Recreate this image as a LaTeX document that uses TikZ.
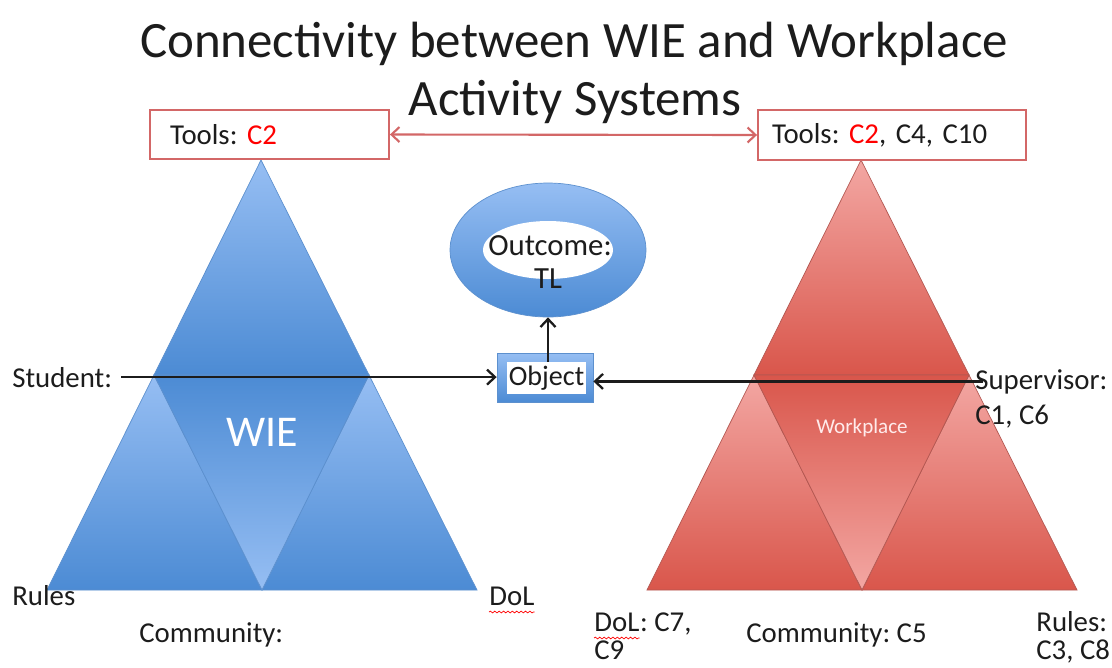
\documentclass[tikz,border=0pt]{standalone}
\usepackage{fontspec}
\setmainfont{Carlito}
\usetikzlibrary{arrows.meta, positioning, shapes.geometric, decorations.pathmorphing}
\definecolor{wielight}{HTML}{96BEF3}
\definecolor{wiedark}{HTML}{4C8BD4}
\definecolor{wieedge}{HTML}{5C90CE}
\definecolor{wplight}{HTML}{F3A7A3}
\definecolor{wpdark}{HTML}{D9564B}
\definecolor{wpedge}{HTML}{B35852}
\definecolor{toolred}{HTML}{D36767}
\definecolor{txt}{HTML}{1C1C1C}
\frenchspacing

% activity system: one triangle cut into four
% #1 name, #2 apex x, #3 light, #4 dark, #5 edge
\newcommand{\actsystem}[5]{%
  \coordinate (#1top) at (#2,160);
  \coordinate (#1bl) at ({#2-214},590);
  \coordinate (#1br) at ({#2+216},590);
  \coordinate (#1ml) at ({#2-107},375);
  \coordinate (#1mr) at ({#2+108},375);
  \coordinate (#1mb) at ({#2+1},590);
  \shade[top color=#3, bottom color=#4, draw=#5, line width=0.4pt] (#1top) -- (#1ml) -- (#1mr) -- cycle;
  \shade[top color=#3, bottom color=#4, draw=#5, line width=0.4pt] (#1ml) -- (#1bl) -- (#1mb) -- cycle;
  \shade[top color=#3, bottom color=#4, draw=#5, line width=0.4pt] (#1mr) -- (#1mb) -- (#1br) -- cycle;
  \shade[top color=#4, bottom color=#3, draw=#5, line width=0.4pt] (#1ml) -- (#1mr) -- (#1mb) -- cycle;
}

\begin{document}
\begin{tikzpicture}[x=0.02cm, y=-0.02cm,
    lbl/.style={font=\fontsize{16.4}{20}\selectfont, text=txt, inner sep=0pt, anchor=base west},
    toolbox/.style={draw=toolred, line width=1.1pt, fill=white, align=left,
                    font=\fontsize{16.4}{20}\selectfont, text=txt},
    conn/.style={-{Straight Barb[length=1.6mm, width=3mm]}, line width=1.3pt, txt},
    toolarr/.style={{Straight Barb[length=1.6mm, width=3mm]}-{Straight Barb[length=1.6mm, width=3mm]},
                    line width=1.2pt, toolred},
    spell/.style={red, line width=0.4pt, decorate,
                  decoration={snake, amplitude=0.5pt, segment length=2.5pt}},
]
    \useasboundingbox (0,0) rectangle (1112,667);

    % title
    \node[font=\fontsize{29}{35}\selectfont, text=txt, anchor=base] (title1) at (574,57) {Connectivity between WIE and Workplace};
    \node[font=\fontsize{29}{35}\selectfont, text=txt, anchor=base] (title2) at (575,115) {Activity Systems};

    % the two triangles
    \actsystem{wie}{261}{wielight}{wiedark}{wieedge}
    \actsystem{wp}{861}{wplight}{wpdark}{wpedge}
    \node[font=\fontsize{25}{30}\selectfont, text=white] (wielbl) at (262,432) {WIE};
    \node[font=\fontsize{12}{14}\selectfont, text=white!92!red] (wplbl) at (862,428) {Workplace};

    % tools
    \node[toolbox, text width=3.98cm, inner xsep=0.4cm, minimum height=0.98cm] (toolsL) at (269.5,134.5) {Tools: \textcolor{red}{C2}};
    \node[toolbox, text width=4.8cm, inner xsep=0.28cm, minimum height=1cm] (toolsR) at (892,135) {Tools: \textcolor{red}{C2}, C4, C10};
    \draw[toolarr] (toolsL.east) -- (toolsR.west);

    % outcome and object
    \node[ellipse, minimum width=3.92cm, minimum height=2.68cm, top color=wielight, bottom color=wiedark,
          draw=wieedge, line width=0.4pt] (outcome) at (548,250) {};
    \node[ellipse, fill=white, minimum width=2.6cm, minimum height=1.16cm] (hole) at (outcome.center) {};
    \node[lbl, font=\fontsize{17.5}{20}\selectfont, anchor=base] (outtxt) at (550,255) {Outcome:};
    \node[lbl, font=\fontsize{17.5}{20}\selectfont, anchor=base] (tltxt) at (548,288) {TL};

    \node[draw=wieedge, top color=wielight, bottom color=wiedark, minimum width=1.92cm, minimum height=0.98cm] (obj) at (545,377.5) {};
    \node[fill=white, minimum width=1.58cm, minimum height=0.64cm, inner sep=0pt,
          font=\fontsize{16}{20}\selectfont, text=txt] (objin) at (546.5,378) {Object};
    \draw[conn] (outcome.south |- objin.north) -- (outcome.south);

    % subjects
    \node[lbl] (student) at (12,387) {Student:};
    \node[lbl] (sup) at (975,389) {Supervisor:};
    \node[lbl] (supc) at (975,424) {C1, C6};
    \draw[conn, shorten <=0.18cm] (student.east) -- (obj.west |- student.east);
    \draw[conn] ([xshift=0.16cm]sup.west) -- (obj.east |- sup.west);

    % WIE corners
    \node[lbl] (rulesL) at (12,605) {Rules};
    \node[lbl] (dolL) at (489,605) {DoL};
    \node[lbl] (commL) at (139,642) {Community:};
    \draw[spell] ([yshift=-0.14cm]dolL.base west) -- ([yshift=-0.14cm]dolL.base east);

    % workplace corners
    \node[lbl] (dolR) at (594,631) {DoL};
    \node[lbl] (dolRc) at (dolR.base east) {: C7,};
    \node[lbl] (c9) at (594,659) {C9};
    \draw[spell] ([yshift=-0.14cm]dolR.base west) -- ([yshift=-0.14cm]dolR.base east);
    \node[lbl] (commR) at (746,642) {Community: C5};
    \node[lbl] (rulesR) at (1036,631) {Rules:};
    \node[lbl] (c3c8) at (1036,659) {C3, C8};
\end{tikzpicture}
\end{document}
